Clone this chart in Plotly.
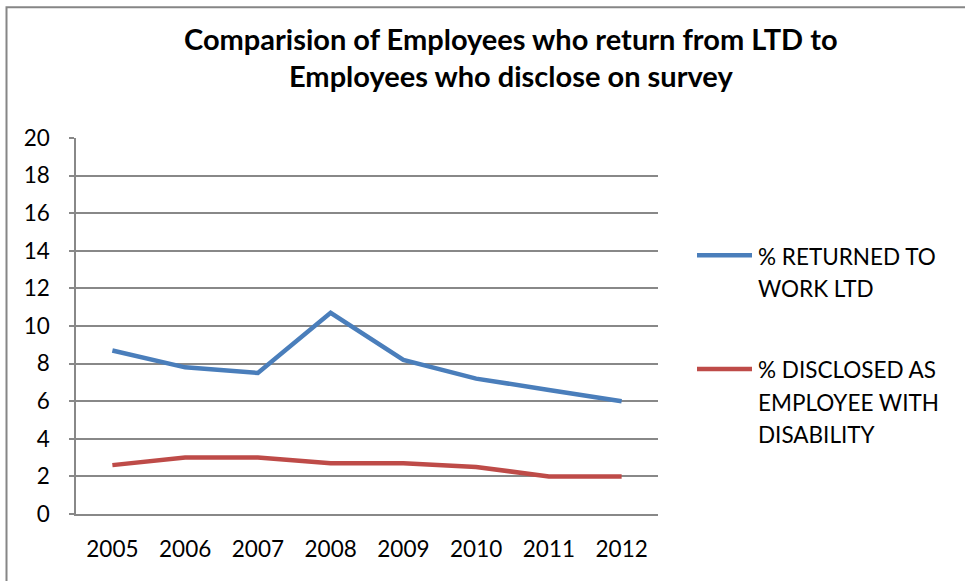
import plotly.graph_objects as go

# Data
years = ["2005", "2006", "2007", "2008", "2009", "2010", "2011", "2012"]
returned_ltd = [8.7, 7.8, 7.5, 10.7, 8.2, 7.2, 6.6, 6.0]
disclosed = [2.6, 3.0, 3.0, 2.7, 2.7, 2.5, 2.0, 2.0]
series_names = ["% RETURNED TO<br>WORK LTD", "% DISCLOSED AS<br>EMPLOYEE WITH<br>DISABILITY"]
series_colors = ["#4A7EBB", "#BE4B48"]
y_ticks = [0, 2, 4, 6, 8, 10, 12, 14, 16, 18, 20]
title_lines = ["Comparision of Employees who return from LTD to",
               "Employees who disclose on survey"]

W, H = 965, 581
L, R, T, B = 76, 658, 137.5, 514.5
FONT = "Lato, Carlito, Calibri, sans-serif"
GRID = "#888888"
TXT = 22.5


def px_x(px):
    return (px - L) / (R - L)


def px_y(py):
    return (B - py) / (B - T)


fig = go.Figure()
for name, vals, col in zip(series_names, [returned_ltd, disclosed], series_colors):
    fig.add_trace(go.Scatter(
        x=years, y=vals, mode="lines", name=name,
        line=dict(color=col, width=4.5), showlegend=False,
    ))

annotations = []
shapes = []

# Title (two centred lines)
for i, line in enumerate(title_lines):
    annotations.append(dict(
        text="<b>" + line + "</b>", xref="paper", yref="paper",
        x=px_x(511), y=px_y(38 + 37 * i), xanchor="center", yanchor="middle",
        showarrow=False, font=dict(family=FONT, size=29, color="#000000"),
    ))

# Legend: swatch line + multi-line label
legend_y = [255, 369]
line_gap = 32.5
for name, col, ly in zip(series_names, series_colors, legend_y):
    shapes.append(dict(
        type="line", xref="paper", yref="paper",
        x0=px_x(697), x1=px_x(752), y0=px_y(ly), y1=px_y(ly),
        line=dict(color=col, width=4.5),
    ))
    for j, part in enumerate(name.split("<br>")):
        annotations.append(dict(
            text=part, xref="paper", yref="paper",
            x=px_x(756), y=px_y(ly + 1 + line_gap * j),
            xanchor="left", yanchor="middle", showarrow=False,
            font=dict(family=FONT, size=TXT, color="#000000"),
        ))

# Chart frame (top and left edges visible)
shapes.append(dict(
    type="rect", xref="paper", yref="paper",
    x0=px_x(6.5), x1=px_x(980), y0=px_y(6.5), y1=px_y(600),
    line=dict(color="#868686", width=2), layer="below",
))

fig.update_layout(
    width=W, height=H,
    margin=dict(l=L, r=W - R, t=T, b=H - B, pad=0),
    paper_bgcolor="white", plot_bgcolor="white",
    font=dict(family=FONT, size=TXT, color="#000000"),
    annotations=annotations, shapes=shapes,
    xaxis=dict(
        type="category", range=[-0.5, 7.5],
        showgrid=False, showline=True, linecolor=GRID, linewidth=1.5,
        ticks="", ticklabelstandoff=14,
        tickfont=dict(family=FONT, size=TXT),
    ),
    yaxis=dict(
        range=[0, 20], tickvals=y_ticks,
        showgrid=True, gridcolor=GRID, gridwidth=1.5,
        showline=True, linecolor=GRID, linewidth=1.5,
        ticks="outside", ticklen=5, tickcolor=GRID, tickwidth=1.5,
        ticklabelstandoff=15, zeroline=False,
        tickfont=dict(family=FONT, size=TXT),
    ),
)

fig.write_html("out.html")
